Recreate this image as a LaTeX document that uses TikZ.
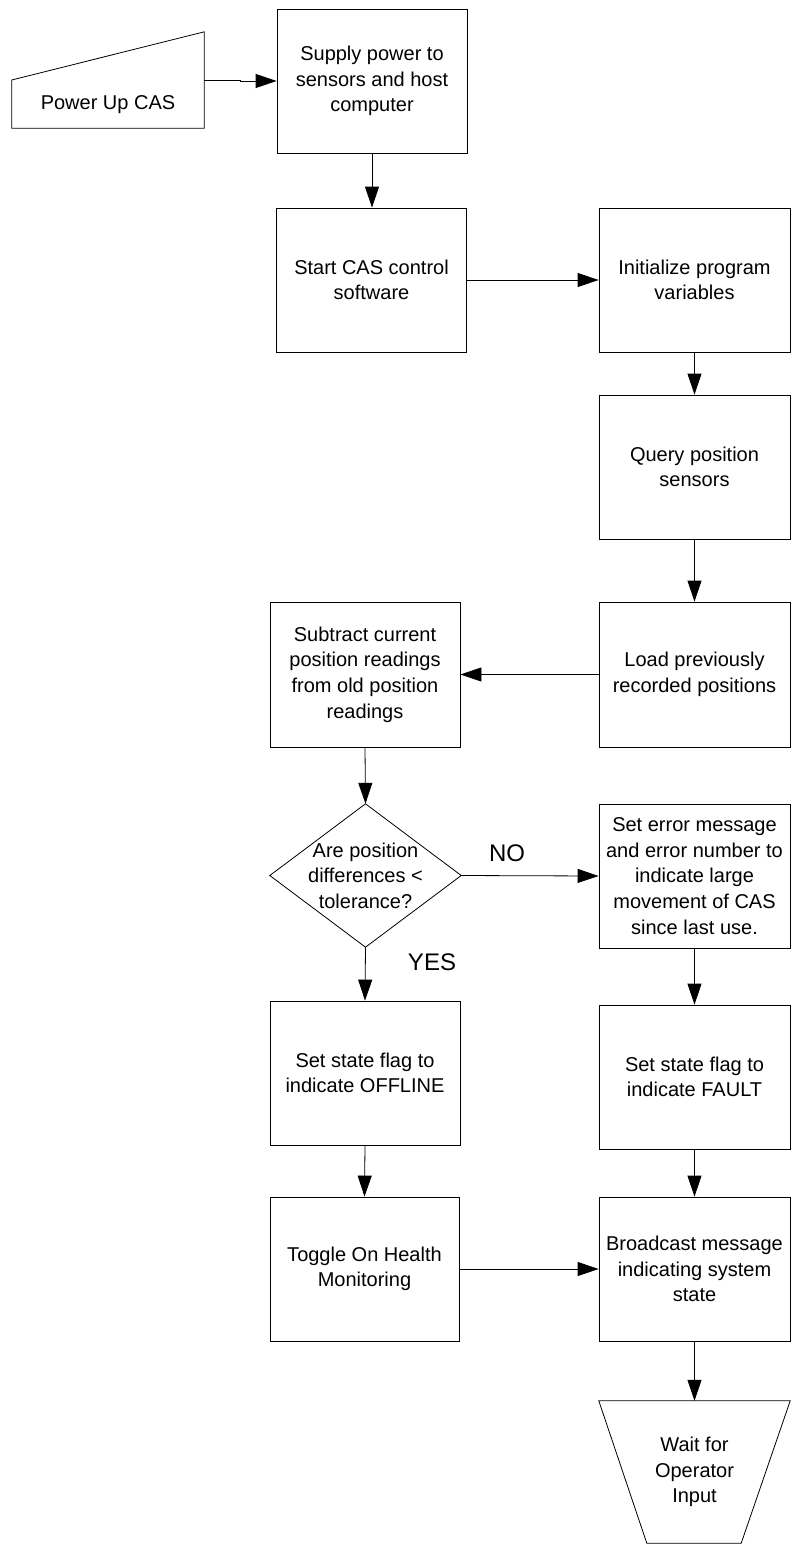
\documentclass[tikz,border=0pt]{standalone}
\usepackage{fontspec}
\setmainfont{Liberation Sans}
\usetikzlibrary{arrows.meta}
\begin{document}
\begin{tikzpicture}[x=1pt,y=-1pt,
  every node/.style={font=\fontsize{20}{25.6}\selectfont, align=center, inner sep=0pt},
  procbox/.style={draw, line width=0.8pt, minimum width=190pt, minimum height=144pt},
  ghost/.style={draw=none, minimum width=#1},
  flow/.style={line width=0.8pt, -{Triangle[length=21pt,width=14pt]}},
  lbl/.style={font=\fontsize{24}{28}\selectfont}
]
\useasboundingbox (0,0) rectangle (792,1545);

% process boxes
\node[procbox] (supply) at (372,81) {Supply power to\\sensors and host\\computer};
\node[procbox] (start) at (371.5,280) {Start CAS control\\software};
\node[procbox, minimum width=191pt] (init) at (694.5,280) {Initialize program\\variables};
\node[procbox, minimum width=191pt] (query) at (694.5,467) {Query position\\sensors};
\node[procbox, minimum width=191pt, minimum height=145pt] (load) at (694.5,674.5) {Load previously\\recorded positions};
\node[procbox, minimum height=145pt] (subtract) at (365,674.5) {Subtract current\\position readings\\from old position\\readings};
\node[procbox, minimum width=191pt] (error) at (694.5,876) {Set error message\\and error number to\\indicate large\\movement of CAS\\since last use.};
\node[procbox] (offline) at (365,1073) {Set state flag to\\indicate OFFLINE};
\node[procbox, minimum width=191pt] (fault) at (694.5,1077) {Set state flag to\\indicate FAULT};
\node[procbox, minimum width=189pt] (toggle) at (364.5,1269) {Toggle On Health\\Monitoring};
\node[procbox, minimum width=191pt] (broadcast) at (694.5,1269) {Broadcast message\\indicating system\\state};

% decision
\node[minimum width=191pt, minimum height=143pt] (decide) at (365.5,875.5) {Are position\\differences <\\tolerance?};
\draw[line width=0.8pt] (decide.north) -- (decide.east) -- (decide.south) -- (decide.west) -- cycle;

% manual input: Power Up CAS
\node[minimum width=192pt, minimum height=96pt] (power) at (108,80) {};
\draw[line width=0.8pt] (power.west) -- (power.south west) -- (power.south east) -- (power.north east) -- cycle;
\node (powerlabel) at (108,105) {Power Up CAS};

% manual operation: Wait for Operator Input
\node[minimum width=191pt, minimum height=142pt] (wait) at (694.5,1472) {Wait for\\Operator\\Input};
\draw[line width=0.8pt] (wait.north west) -- (wait.north east) -- ([xshift=-49pt]wait.south east) -- ([xshift=48pt]wait.south west) -- cycle;

% connectors
\draw[flow] (power.east) -- ++(36,0) |- (supply.west);
\draw[flow] (supply.south) -- (start.north -| supply.south);
\draw[flow] (start.east) -- (init.west);
\draw[flow] (init.south) -- (query.north);
\draw[flow] (query.south) -- (load.north);
\draw[flow] (load.west) -- (subtract.east);
\draw[flow] (subtract.south) -- (decide.north);
\draw[flow] (decide.east) -- (error.west);
\draw[flow] (decide.south) -- (offline.north);
\draw[flow] (error.south) -- (fault.north);
\draw[flow] (offline.south) -- (toggle.north);
\draw[flow] (fault.south) -- (broadcast.north);
\draw[flow] (toggle.east) -- (broadcast.west);
\draw[flow] (broadcast.south) -- (wait.north);

% branch labels
\node[lbl] (nolabel) at (507,853) {NO};
\node[lbl] (yeslabel) at (432,962) {YES};
\end{tikzpicture}
\end{document}
